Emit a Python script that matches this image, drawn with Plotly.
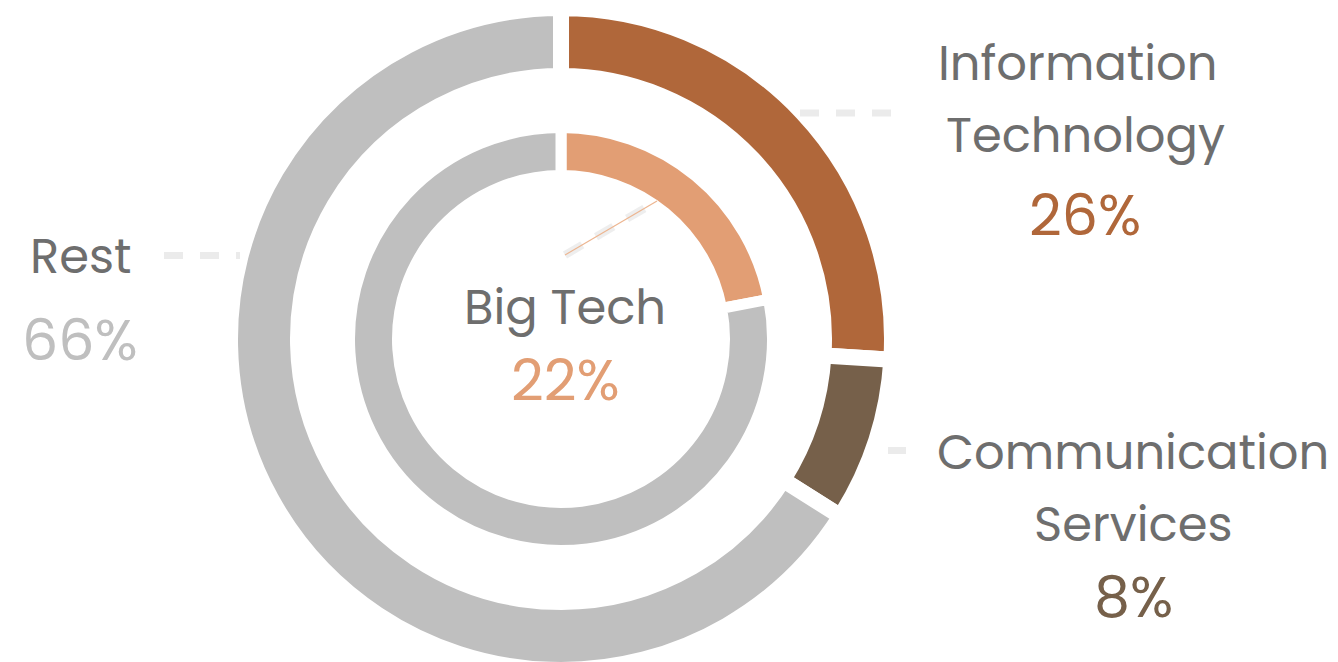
import plotly.graph_objects as go

W, H = 1338, 662
OFF = 8  # page body margin offset

# ---- data ----
outer_labels = ["Information Technology", "Communication Services", "Rest"]
outer_values = [26, 8, 66]
outer_colors = ["#B0673A", "#76604A", "#BFBFBF"]

inner_labels = ["Big Tech", "Other"]
inner_values = [22, 78]
inner_colors = ["#E29E74", "#BFBFBF"]

FONT = "Poppins, Inter, Noto Sans, sans-serif"
LABEL_COLOR = "#6E6E6E"
LEADER_COLOR = "#EBEBEB"

def px(x):
    return (x - OFF) / W

def py(y):
    return 1 - (y - OFF) / H

CX, CY = 561, 339

def domain(R):
    return dict(x=[px(CX - R), px(CX + R)], y=[max(0, py(CY + R)), min(1, py(CY - R))])

fig = go.Figure()

R_out = 331
fig.add_trace(go.Pie(
    labels=outer_labels, values=outer_values, sort=False, direction="clockwise",
    rotation=0, hole=263 / R_out, domain=domain(R_out),
    marker=dict(colors=outer_colors, line=dict(color="white", width=16)),
    textinfo="none", hoverinfo="label+percent", showlegend=False,
))

R_in = 211.5
fig.add_trace(go.Pie(
    labels=inner_labels, values=inner_values, sort=False, direction="clockwise",
    rotation=0, hole=163.5 / R_in, domain=domain(R_in),
    marker=dict(colors=inner_colors, line=dict(color="white", width=11)),
    textinfo="none", hoverinfo="label+percent", showlegend=False,
))

annotations = []

def txt(x, y, s, color, size=48):
    annotations.append(dict(
        x=px(x), y=py(y), xref="paper", yref="paper", text=s, showarrow=False,
        xanchor="center", yanchor="middle",
        font=dict(family=FONT, size=size, color=color),
    ))

pct = lambda v: f"{v}%"
PS = 57

txt(1078, 63, "Information", LABEL_COLOR)
txt(1085, 135, "Technology", LABEL_COLOR)
txt(1085, 215, pct(outer_values[0]), outer_colors[0], PS)

txt(80, 256, "Rest", LABEL_COLOR)
txt(80, 340, pct(outer_values[2]), outer_colors[2], PS)

txt(1133, 452, "Communication", LABEL_COLOR)
txt(1133, 524, "Services", LABEL_COLOR)
txt(1133, 597, pct(outer_values[1]), outer_colors[1], PS)

txt(565, 307, inner_labels[0], LABEL_COLOR)
txt(565, 380, pct(inner_values[0]), inner_colors[0], PS)

shapes = []

def seg(x0, y0, x1, y1, color, width, dash="solid", opacity=1.0):
    shapes.append(dict(
        type="line", xref="paper", yref="paper",
        x0=px(x0), y0=py(y0), x1=px(x1), y1=py(y1),
        line=dict(color=color, width=width, dash=dash), opacity=opacity, layer="above",
    ))

seg(800, 113, 891, 113, LEADER_COLOR, 7, "19px,17px")
seg(164, 255.5, 240, 255.5, LEADER_COLOR, 7, "19px,17px")
seg(888, 450.5, 906, 450.5, LEADER_COLOR, 7)
seg(565, 255, 657, 201, LEADER_COLOR, 8, "20px,16px", 0.8)
seg(565, 255, 657, 201, "#EDB590", 1.2)

fig.update_layout(
    width=W, height=H, margin=dict(l=0, r=0, t=0, b=0),
    paper_bgcolor="white", plot_bgcolor="white",
    annotations=annotations, shapes=shapes, showlegend=False,
)

fig.write_html("out.html")
